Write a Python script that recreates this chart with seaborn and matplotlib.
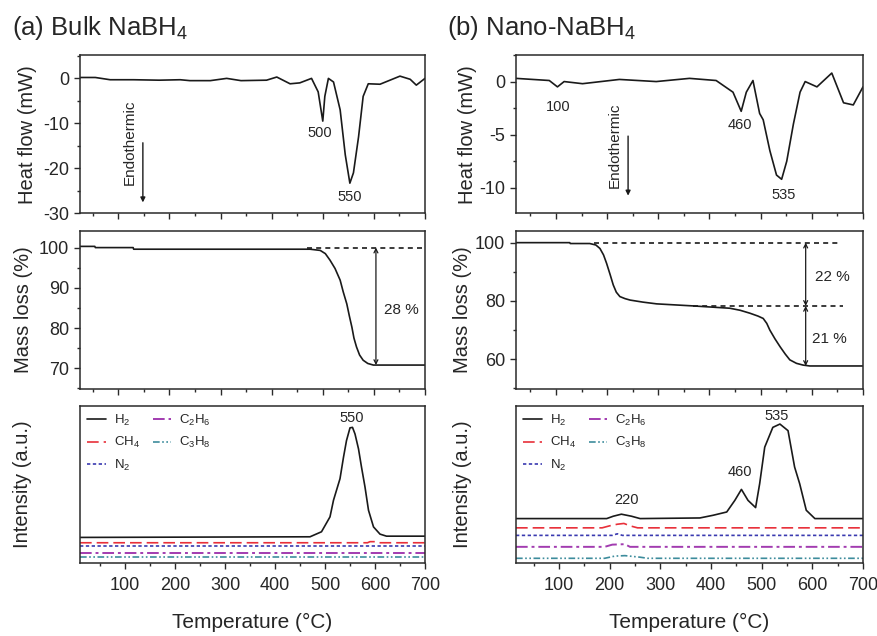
import numpy as np
import pandas as pd
import matplotlib
matplotlib.use("Agg")
import matplotlib.pyplot as plt
from matplotlib.ticker import MultipleLocator, NullFormatter
import seaborn as sns

# ---------------- data ----------------
# (a) bulk: heat flow
bulk_hf_T = [25, 55, 84, 130, 180, 221, 240, 280, 312, 340, 390, 410, 436, 455, 478, 491, 500, 504, 511,
             521, 534, 544, 553, 560, 570, 579, 589, 612, 651, 671, 683, 700]
bulk_hf = [0.2, 0.2, -0.3, -0.3, -0.4, -0.3, -0.5, -0.5, 0.0, -0.5, -0.4, 0.3, -1.2, -1.0, 0.0, -3.0,
           -9.5, -4.0, 0.0, -0.8, -7.0, -17.0, -23.3, -21.0, -13.0, -4.0, -1.2, -1.3, 0.5, -0.2, -1.5, 0.0]
# (b) nano: heat flow
nano_hf_T = [22, 87, 103, 116, 152, 224, 296, 361, 413, 446, 462, 472, 485, 498, 505, 518, 531, 541,
             551, 564, 577, 587, 610, 639, 662, 681, 700]
nano_hf = [0.3, 0.1, -0.5, 0.0, -0.2, 0.2, 0.0, 0.3, 0.1, -1.0, -2.8, -1.0, 0.1, -3.0, -3.6, -6.5,
           -8.8, -9.2, -7.5, -4.0, -1.0, 0.0, -0.5, 0.8, -2.0, -2.2, -0.5]

# (a) bulk: mass loss
bulk_ml_T = [25, 54, 55, 129, 130, 475, 495, 505, 514, 524, 534, 540, 547, 552, 557, 561, 566, 572,
             579, 588, 599, 700]
bulk_ml = [100.3, 100.3, 100.0, 100.0, 99.6, 99.6, 99.3, 98.5, 96.9, 94.8, 91.9, 89.0, 86.0, 83.0,
           80.2, 77.5, 75.3, 73.3, 72.0, 71.2, 70.8, 70.8]
# (b) nano: mass loss
nano_ml_T = [22, 127, 128, 166, 178, 186, 193, 199, 206, 212, 218, 225, 235, 245, 270, 297, 368, 440,
             460, 479, 495, 505, 512, 518, 528, 538, 548, 557, 570, 583, 596, 700]
nano_ml = [100.0, 100.0, 99.7, 99.7, 99.2, 98.0, 95.8, 92.9, 89.0, 85.5, 83.0, 81.5, 80.8, 80.3, 79.6,
           79.0, 78.3, 77.5, 76.8, 75.8, 74.8, 74.0, 72.3, 70.0, 67.0, 64.3, 61.8, 59.8, 58.6, 58.0,
           57.7, 57.7]

# (a) bulk: MS intensity (a.u.)
gases = ["H$_2$", "CH$_4$", "N$_2$", "C$_2$H$_6$", "C$_3$H$_8$"]
bulk_h2_T = [10, 470, 493, 510, 517, 530, 537, 543, 550, 555, 560, 567, 573, 580, 587, 597, 610, 623, 700]
bulk_h2 = [0.161, 0.165, 0.197, 0.292, 0.398, 0.535, 0.672, 0.778, 0.859, 0.862, 0.82, 0.725, 0.609,
           0.482, 0.334, 0.228, 0.182, 0.169, 0.169]
bulk_ch4_T = [10, 585, 590, 600, 605, 700]
bulk_ch4 = [0.127, 0.127, 0.134, 0.134, 0.127, 0.127]
bulk_n2_T = [10, 700]
bulk_n2 = [0.106, 0.106]
bulk_c2h6_T = [10, 700]
bulk_c2h6 = [0.060, 0.060]
bulk_c3h8_T = [10, 700]
bulk_c3h8 = [0.038, 0.038]

# (b) nano: MS intensity (a.u.)
nano_h2_T = [15, 194, 207, 223, 243, 260, 378, 404, 431, 447, 460, 473, 488, 496, 506, 522, 536, 552,
             565, 575, 588, 605, 700]
nano_h2 = [0.281, 0.281, 0.296, 0.309, 0.296, 0.281, 0.285, 0.302, 0.323, 0.397, 0.467, 0.397, 0.351,
           0.503, 0.736, 0.862, 0.883, 0.841, 0.609, 0.503, 0.334, 0.281, 0.281]
nano_ch4_T = [15, 185, 200, 215, 228, 240, 255, 700]
nano_ch4 = [0.222, 0.222, 0.235, 0.245, 0.250, 0.235, 0.222, 0.222]
nano_n2_T = [15, 205, 215, 225, 700]
nano_n2 = [0.174, 0.174, 0.184, 0.174, 0.174]
nano_c2h6_T = [15, 190, 205, 230, 240, 700]
nano_c2h6 = [0.101, 0.101, 0.115, 0.118, 0.101, 0.101]
nano_c3h8_T = [15, 190, 210, 230, 260, 275, 700]
nano_c3h8 = [0.028, 0.028, 0.042, 0.045, 0.035, 0.028, 0.028]

# ---------------- style ----------------
sns.set_theme(style="ticks")
plt.rcParams["font.family"] = ["Liberation Sans", "DejaVu Sans"]
plt.rcParams["mathtext.fontset"] = "custom"
plt.rcParams["mathtext.rm"] = "Liberation Sans"
plt.rcParams["mathtext.it"] = "Liberation Sans:italic"
plt.rcParams["axes.unicode_minus"] = False
TXT = "#262626"
AX = "#2a2a2a"
plt.rcParams.update({
    "axes.edgecolor": AX, "axes.linewidth": 1.1,
    "xtick.color": AX, "ytick.color": AX,
    "xtick.labelcolor": TXT, "ytick.labelcolor": TXT,
    "xtick.direction": "out", "ytick.direction": "out",
    "xtick.major.size": 4.0, "ytick.major.size": 4.0,
    "xtick.minor.size": 2.5, "ytick.minor.size": 2.5,
    "xtick.major.width": 1.0, "ytick.major.width": 1.0,
    "xtick.minor.width": 1.0, "ytick.minor.width": 1.0,
    "xtick.major.pad": 6, "ytick.major.pad": 4,
})

W, H = 878, 636
fig = plt.figure(figsize=(W / 100, H / 100), dpi=100)


def rect(x0, x1, y0, y1):
    return [x0 / W, 1 - y1 / H, (x1 - x0) / W, (y1 - y0) / H]


colL = (80, 425)
colR = (516, 863)
rows = [(55, 213.3), (230.7, 389), (405.7, 562.7)]

axs = {}
for c, (x0, x1) in zip("ab", [colL, colR]):
    for r, (y0, y1) in enumerate(rows):
        axs[(c, r)] = fig.add_axes(rect(x0, x1, y0, y1))

LW = 1.2


def line(ax, x, y, **kw):
    df = pd.DataFrame({"T": x, "v": y})
    sns.lineplot(data=df, x="T", y="v", ax=ax, estimator=None, sort=False, **kw)


# ---- heat flow ----
ax = axs[("a", 0)]
line(ax, bulk_hf_T, bulk_hf, color="k", lw=LW)
ax.set_xlim(25, 700)
ax.set_ylim(-30, 5.2)
ax.yaxis.set_major_locator(MultipleLocator(10))
ax.yaxis.set_minor_locator(MultipleLocator(5))
ax.text(495, -12.2, "500", ha="center", va="center", fontsize=10.5, color=TXT)
ax.text(553, -26.3, "550", ha="center", va="center", fontsize=10.5, color=TXT)
ax.text(122, -14.2, "Endothermic", rotation=90, ha="center", va="center", fontsize=11, color=TXT)
ax.annotate("", xy=(148, -28.2), xytext=(148, -13.7),
            arrowprops=dict(arrowstyle="-|>", color="k", lw=1.0, mutation_scale=7))

ax = axs[("b", 0)]
line(ax, nano_hf_T, nano_hf, color="k", lw=LW)
ax.set_xlim(22, 700)
ax.set_ylim(-12.4, 2.5)
ax.yaxis.set_major_locator(MultipleLocator(5))
ax.yaxis.set_minor_locator(MultipleLocator(2.5))
ax.text(105, -2.36, "100", ha="center", va="center", fontsize=10.5, color=TXT)
ax.text(459, -4.1, "460", ha="center", va="center", fontsize=10.5, color=TXT)
ax.text(544, -10.7, "535", ha="center", va="center", fontsize=10.5, color=TXT)
ax.text(215, -6.0, "Endothermic", rotation=90, ha="center", va="center", fontsize=11, color=TXT)
ax.annotate("", xy=(241, -11.0), xytext=(241, -4.87),
            arrowprops=dict(arrowstyle="-|>", color="k", lw=1.0, mutation_scale=7))

# ---- mass loss ----
ax = axs[("a", 1)]
line(ax, bulk_ml_T, bulk_ml, color="k", lw=LW)
ax.set_xlim(25, 700)
ax.set_ylim(64.85, 104.2)
ax.yaxis.set_major_locator(MultipleLocator(10))
ax.yaxis.set_minor_locator(MultipleLocator(5))
ax.plot([470, 700], [100, 100], ls=(0, (3, 2.5)), color="k", lw=1.2)
ax.annotate("", xy=(604, 70.8), xytext=(604, 100),
            arrowprops=dict(arrowstyle="<->", color="k", lw=0.9, mutation_scale=7, shrinkA=0, shrinkB=0))
ax.text(654, 84.4, "28 %", ha="center", va="center", fontsize=11, color=TXT)

ax = axs[("b", 1)]
line(ax, nano_ml_T, nano_ml, color="k", lw=LW)
ax.set_xlim(22, 700)
ax.set_ylim(49.8, 104.1)
ax.yaxis.set_major_locator(MultipleLocator(20))
ax.yaxis.set_minor_locator(MultipleLocator(10))
ax.plot([175, 651], [100, 100], ls=(0, (3, 2.5)), color="k", lw=1.2)
ax.plot([368, 661], [78.3, 78.3], ls=(0, (3, 2.5)), color="k", lw=1.2)
ax.annotate("", xy=(588, 78.3), xytext=(588, 100),
            arrowprops=dict(arrowstyle="<->", color="k", lw=0.9, mutation_scale=7, shrinkA=0, shrinkB=0))
ax.annotate("", xy=(588, 57.7), xytext=(588, 78.3),
            arrowprops=dict(arrowstyle="<->", color="k", lw=0.9, mutation_scale=7, shrinkA=0, shrinkB=0))
ax.text(640, 88.3, "22 %", ha="center", va="center", fontsize=11, color=TXT)
ax.text(635, 67.0, "21 %", ha="center", va="center", fontsize=11, color=TXT)

# ---- MS intensity ----
styles = [
    dict(color="k", lw=1.2, ls="-"),
    dict(color="#e8303a", lw=1.2, ls=(0, (7, 3))),
    dict(color="#3a3ab0", lw=1.2, ls=(0, (2, 1.5))),
    dict(color="#a23cb0", lw=1.4, ls=(0, (6, 2, 1.5, 2))),
    dict(color="#3d8c9c", lw=1.2, ls=(0, (4, 1.5, 1, 1.5, 1, 1.5))),
]
bulk_sets = [(bulk_h2_T, bulk_h2), (bulk_ch4_T, bulk_ch4), (bulk_n2_T, bulk_n2),
             (bulk_c2h6_T, bulk_c2h6), (bulk_c3h8_T, bulk_c3h8)]
nano_sets = [(nano_h2_T, nano_h2), (nano_ch4_T, nano_ch4), (nano_n2_T, nano_n2),
             (nano_c2h6_T, nano_c2h6), (nano_c3h8_T, nano_c3h8)]

for c, sets, xl in [("a", bulk_sets, (10, 700)), ("b", nano_sets, (15, 700))]:
    ax = axs[(c, 2)]
    for (t, v), st, name in zip(sets, styles, gases):
        line(ax, t, v, label=name, **st)
    ax.set_xlim(*xl)
    ax.set_ylim(0, 1)
    ax.set_yticks([])
    leg = ax.legend(loc="upper left", ncol=2, frameon=False, fontsize=9.5,
                    handlelength=1.4, handletextpad=0.6, columnspacing=1.0,
                    labelspacing=0.55, borderaxespad=0.25, borderpad=0.3)
    for t in leg.get_texts():
        t.set_color(TXT)

ax = axs[("a", 2)]
ax.text(553, 0.922, "550", ha="center", va="center", fontsize=10.5, color=TXT)
ax = axs[("b", 2)]
ax.text(530, 0.937, "535", ha="center", va="center", fontsize=10.5, color=TXT)
ax.text(457, 0.577, "460", ha="center", va="center", fontsize=10.5, color=TXT)
ax.text(233, 0.398, "220", ha="center", va="center", fontsize=10.5, color=TXT)

# ---- common axis formatting ----
for (c, r), ax in axs.items():
    ax.xaxis.set_major_locator(MultipleLocator(100))
    ax.xaxis.set_minor_locator(MultipleLocator(50))
    ax.tick_params(axis="both", which="both", top=False, right=False)
    ax.tick_params(axis="both", which="major", labelsize=13)
    ax.set_xlabel("")
    ax.set_ylabel("")
    for s in ax.spines.values():
        s.set_visible(True)
    if r < 2:
        ax.xaxis.set_major_formatter(NullFormatter())
    else:
        ax.set_xticks([100, 200, 300, 400, 500, 600, 700])
        ax.set_xlabel("Temperature (°C)", fontsize=15, color=TXT, labelpad=14)

ylabels = ["Heat flow (mW)", "Mass loss (%)", "Intensity (a.u.)"]
lab_x = {"a": [-0.125, -0.136, -0.139], "b": [-0.112, -0.127, -0.127]}
for c in "ab":
    for r in range(3):
        ax = axs[(c, r)]
        ax.set_ylabel(ylabels[r], fontsize=14.5, color=TXT)
        ax.yaxis.set_label_coords(lab_x[c][r], 0.5)

fig.text(12 / W, 1 - 35 / H, "(a) Bulk NaBH$_4$", fontsize=18.5, color=TXT, ha="left", va="baseline")
fig.text(447 / W, 1 - 35 / H, "(b) Nano-NaBH$_4$", fontsize=18.5, color=TXT, ha="left", va="baseline")

fig.savefig("out.png", dpi=100, facecolor="white")
